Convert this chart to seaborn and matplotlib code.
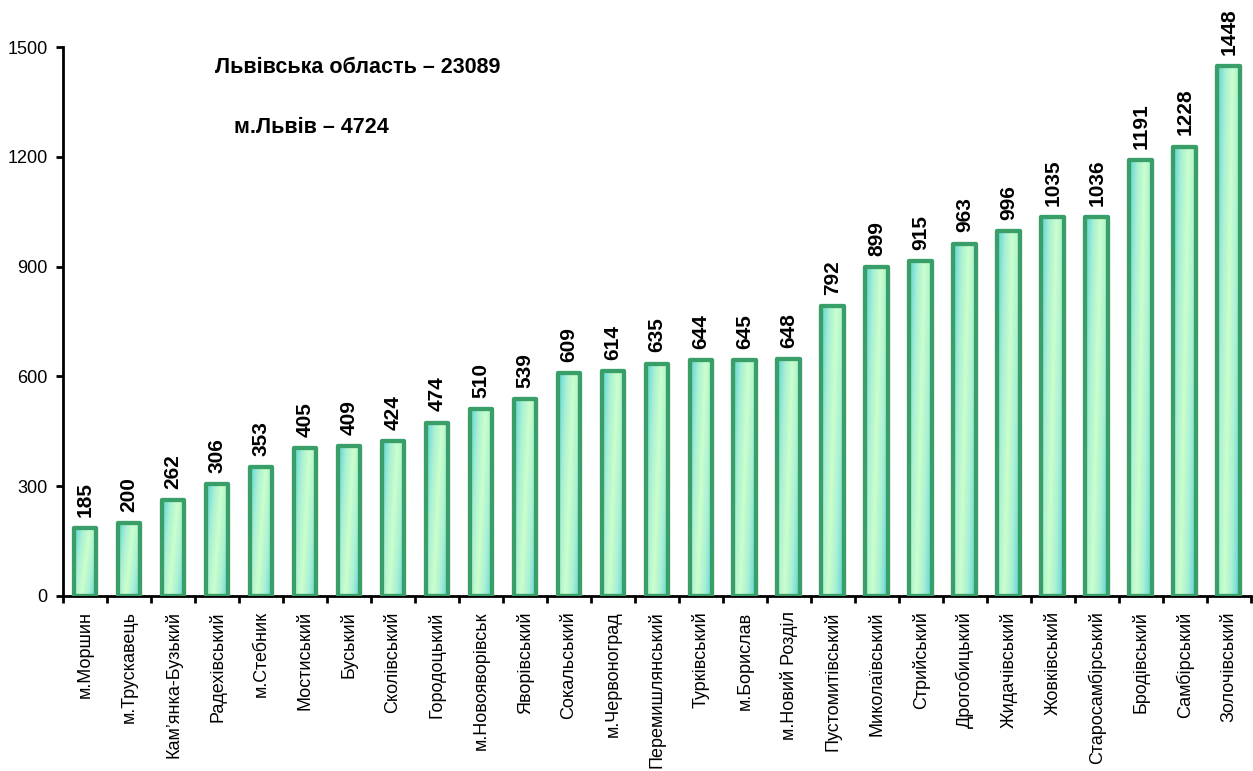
import numpy as np
import pandas as pd
import matplotlib
matplotlib.use("Agg")
import matplotlib.pyplot as plt
import seaborn as sns
from matplotlib.colors import LinearSegmentedColormap

# Data
districts = ["м.Моршин", "м.Трускавець", "Кам’янка-Бузький", "Радехівський", "м.Стебник",
             "Мостиський", "Буський", "Сколівський", "Городоцький", "м.Новояворівськ",
             "Яворівський", "Сокальський", "м.Червоноград", "Перемишлянський", "Турківський",
             "м.Борислав", "м.Новий Розділ", "Пустомитівський", "Миколаївський", "Стрийський",
             "Дрогобицький", "Жидачівський", "Жовківський", "Старосамбірський", "Бродівський",
             "Самбірський", "Золочівський"]
counts = [185, 200, 262, 306, 353, 405, 409, 424, 474, 510, 539, 609, 614, 635, 644,
          645, 648, 792, 899, 915, 963, 996, 1035, 1036, 1191, 1228, 1448]
yticks = [0, 300, 600, 900, 1200, 1500]
note_region = "Львівська область – 23089"
note_city = "м.Львів – 4724"

df = pd.DataFrame({"district": districts, "count": counts})

sns.set_style("white")
plt.rcParams["font.family"] = ["Liberation Sans", "DejaVu Sans"]
plt.rcParams["text.color"] = "black"
plt.rcParams["xtick.color"] = "black"
plt.rcParams["ytick.color"] = "black"

fig = plt.figure(figsize=(12.53, 7.71), dpi=100)
ax = fig.add_axes([0.0503, 0.227, 0.948, 0.712])

edge = "#3a9e68"
sns.barplot(data=df, x="district", y="count", ax=ax, width=0.52,
            color="white", edgecolor=edge, linewidth=3.1, zorder=3)

# diagonal gradient: cyan in top-left and bottom-right corners, pale green across
cmap = LinearSegmentedColormap.from_list("g", ["#ccffcc", "#aaf0d4", "#58d4d4"])
u = np.linspace(0, 1, 40).reshape(1, -1)
v = np.linspace(0, 1, 200).reshape(-1, 1)
grad = np.clip(np.abs(1.6 * u + 0.6 * v - 1.1) / 1.1, 0, 1) ** 0.9
for p in ax.patches:
    x0, w, h = p.get_x(), p.get_width(), p.get_height()
    ax.imshow(grad, cmap=cmap, vmin=0, vmax=1, extent=[x0, x0 + w, 0, h],
              aspect="auto", zorder=2, interpolation="bilinear", origin="upper")
    p.set_facecolor("none")
    p.set_joinstyle("round")
    ax.annotate(str(int(h)), (x0 + w / 2, h), xytext=(0, 8), textcoords="offset points",
                rotation=90, ha="center", va="bottom", fontsize=15, fontweight="bold")

ax.set_xlim(-0.5, len(districts) - 0.5)
ax.set_ylim(0, 1500)
ax.set_yticks(yticks)
ax.set_xlabel("")
ax.set_ylabel("")

# ticks between categories
ax.set_xticks(np.arange(len(districts)))
ax.set_xticklabels(districts, rotation=90, fontsize=13)
ax.set_xticks(np.arange(-0.5, len(districts)), minor=True)
ax.tick_params(axis="x", which="major", length=0, pad=11)
ax.tick_params(axis="x", which="minor", length=5, width=2, direction="out", bottom=True)
ax.tick_params(axis="y", length=5, width=2, direction="out", labelsize=13, left=True, pad=6)

for s in ["top", "right"]:
    ax.spines[s].set_visible(False)
for s in ["left", "bottom"]:
    ax.spines[s].set_linewidth(2)
    ax.spines[s].set_color("black")

fig.text(0.1715, 0.912, note_region, fontsize=15.5, fontweight="bold", va="center")
fig.text(0.1865, 0.834, note_city, fontsize=15.5, fontweight="bold", va="center")

fig.savefig("out.png", dpi=100)
